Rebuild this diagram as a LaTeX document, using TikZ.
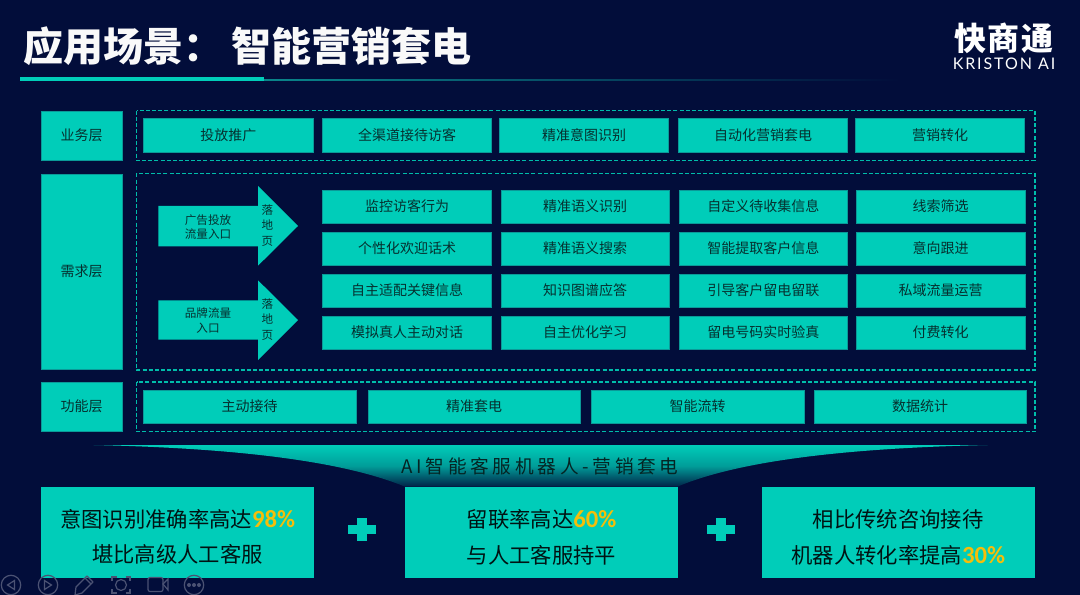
\documentclass[tikz,border=0pt]{standalone}
\usepackage{fontspec}
\setmainfont{Noto Sans CJK SC}
\newfontfamily\numfont{Carlito}
\newfontfamily\latinfont{Lato}
\definecolor{bgnavy}{HTML}{020D3A}
\definecolor{tealbox}{HTML}{00CDB9}
\definecolor{tealedge}{HTML}{0A9A98}
\definecolor{inktext}{HTML}{06302F}
\definecolor{amber}{HTML}{F5BE0A}
\definecolor{uigray}{HTML}{4B5273}
\tikzset{
  x=0.75pt,y=-0.75pt,
  cbox/.style={fill=tealbox,draw=tealedge,line width=0.6pt,inner sep=0pt,align=center,text=inktext,font=\fontsize{10.5pt}{13pt}\selectfont},
  bigbox/.style={fill=tealbox,draw=none,inner sep=0pt,align=center,text=black!85!teal,font=\fontsize{16pt}{26.5pt}\selectfont},
  dashbox/.style={draw=tealbox!92!black,line width=1pt,dash pattern=on 3pt off 1.6pt},
  smalltxt/.style={inner sep=0pt,text=inktext,align=center,font=\fontsize{8.7pt}{10.7pt}\selectfont},
  uiicon/.style={draw=uigray,line width=0.9pt,fill=none},
  plusmark/.style={fill=tealbox,draw=none},
}
\newcommand{\cbx}[6]{\node[cbox,minimum width={(#4-#2)*0.75pt},minimum height={(#5-#3)*0.75pt}] (#1) at ({(#2+#4)/2},{(#3+#5)/2}) {#6};}
\newcommand{\bbx}[6]{\node[bigbox,minimum width={(#4-#2)*0.75pt},minimum height={(#5-#3)*0.75pt}] (#1) at ({(#2+#4)/2},{(#3+#5)/2}) {\rule{0pt}{21pt}#6};}
\newcommand{\pct}[1]{{\color{amber}\numfont\bfseries\fontsize{18.5pt}{26.5pt}\selectfont #1}}
\begin{document}
\begin{tikzpicture}
\fill[bgnavy] (0,0) rectangle (1080,595);
\useasboundingbox (0,0) rectangle (1080,595);
% title
\node[anchor=west,inner sep=0pt,text=white!95!gray,font=\fontsize{30pt}{36pt}\selectfont\bfseries] (title) at (23,46) {应用场景：\kern 6.5pt 智能营销套电};
\fill[tealbox] (19.5,77) rectangle (264,81);
\shade[left color=tealedge!85!bgnavy,right color=bgnavy] (264,79.2) rectangle (900,80.8);
% logo
\node[inner sep=0pt,text=white,font=\fontsize{24pt}{28pt}\selectfont\bfseries] (logocn) at (1004,38) {\addfontfeature{LetterSpace=6}快商通};
\node[inner sep=0pt,text=white,font=\fontsize{12pt}{14pt}\selectfont] (logoen) at (1004,64) {\latinfont\addfontfeature{LetterSpace=12}KRISTON AI};
% layer labels
\cbx{lyA}{41}{111}{122}{160}{业务层}
\cbx{lyB}{41}{174}{122}{369}{需求层}
\cbx{lyC}{41}{382}{122}{431}{功能层}
% dashed frames
\draw[dashbox] (136.7,110.7) rectangle (1035,160.5);
\draw[dashbox] (136.7,173.5) rectangle (1035,370);
\draw[dashbox] (136.7,382) rectangle (1035,431.5);
% business row
\cbx{bA}{143}{118.5}{313.5}{152}{投放推广}
\cbx{bB}{322.5}{118.5}{491.7}{152}{全渠道接待访客}
\cbx{bC}{499.5}{118.5}{668.8}{152}{精准意图识别}
\cbx{bD}{678.8}{118.5}{847.5}{152}{自动化营销套电}
\cbx{bE}{855.8}{118.5}{1024.5}{152}{营销转化}
% demand grid
\cbx{gA}{322.5}{190}{491.7}{223}{监控访客行为}
\cbx{gB}{501}{190}{669}{223}{精准语义识别}
\cbx{gC}{679}{190}{847.5}{223}{自定义待收集信息}
\cbx{gD}{856}{190}{1025}{223}{线索筛选}
\cbx{gE}{322.5}{232}{491.7}{265}{个性化欢迎话术}
\cbx{gF}{501}{232}{669}{265}{精准语义搜索}
\cbx{gG}{679}{232}{847.5}{265}{智能提取客户信息}
\cbx{gH}{856}{232}{1025}{265}{意向跟进}
\cbx{gI}{322.5}{274}{491.7}{307}{自主适配关键信息}
\cbx{gJ}{501}{274}{669}{307}{知识图谱应答}
\cbx{gK}{679}{274}{847.5}{307}{引导客户留电留联}
\cbx{gL}{856}{274}{1025}{307}{私域流量运营}
\cbx{gM}{322.5}{316}{491.7}{349}{模拟真人主动对话}
\cbx{gN}{501}{316}{669}{349}{自主优化学习}
\cbx{gO}{679}{316}{847.5}{349}{留电号码实时验真}
\cbx{gP}{856}{316}{1025}{349}{付费转化}
% arrows
\fill[tealbox] (158.3,206) -- (258,206) -- (258,186) -- (298,226) -- (258,265.7) -- (258,246.3) -- (158.3,246.3) -- cycle;
\fill[tealbox] (158.3,300.3) -- (258,300.3) -- (258,280.3) -- (298,320) -- (258,360) -- (258,339.7) -- (158.3,339.7) -- cycle;
\node[smalltxt] (arA) at (208,227) {广告投放\\流量入口};
\node[smalltxt] (arB) at (208,320.5) {品牌流量\\入口};
\node[smalltxt] (ldA) at (267.5,225.5) {落\\[0.9pt]地\\[0.9pt]页};
\node[smalltxt] (ldB) at (267.5,319.5) {落\\[0.9pt]地\\[0.9pt]页};
% function row
\cbx{fA}{143}{390}{356}{423}{主动接待}
\cbx{fB}{368}{390}{580}{423}{精准套电}
\cbx{fC}{591}{390}{804}{423}{智能流转}
\cbx{fD}{814}{390}{1026}{423}{数据统计}
% funnel
\shade[top color=tealbox,bottom color=bgnavy!80!teal,middle color=tealbox!75!bgnavy]
  (93.7,445) -- (987.6,445) .. controls (851,448) and (741,460) .. (677.7,486.5) -- (404.6,486.5) .. controls (340,460) and (230,448) .. (93.7,445) -- cycle;
\node[inner sep=0pt,text=inktext!75!black,font=\fontsize{14pt}{16pt}\selectfont] (funnel) at (540,466) {\addfontfeature{LetterSpace=20}AI智能客服机器人-营销套电};
% bottom boxes
\bbx{sA}{41.3}{486.7}{314}{577.7}{意图识别准确率高达\pct{98\%}\\堪比高级人工客服}
\bbx{sB}{405}{486.7}{678}{577.7}{留联率高达\pct{60\%}\\与人工客服持平}
\bbx{sC}{762}{486.7}{1034.5}{577.7}{相比传统咨询接待\\机器人转化率提高\pct{30\%}}
% plus signs
\fill[plusmark] (347.5,524.5) rectangle (375.7,533.5);
\fill[plusmark] (357,517.5) rectangle (366.5,540.5);
\fill[plusmark] (706.8,524.5) rectangle (735,533.5);
\fill[plusmark] (716.3,517.5) rectangle (725.8,540.5);
% slideshow toolbar
\draw[uiicon] (11,585) circle (9.7);
\draw[uiicon] (14.5,580.5) -- (7.5,585) -- (14.5,589.5) -- cycle;
\draw[uiicon] (48,585) circle (9.7);
\draw[uiicon] (44.5,580.5) -- (51.5,585) -- (44.5,589.5) -- cycle;
\draw[uiicon,line join=round] (75,595) -- (76,587) -- (87,576) -- (93,582) -- (82,593) -- cycle;
\draw[uiicon] (85,578) -- (91,584);
\draw[uiicon] (121,585) circle (5.5);
\draw[uiicon] (112,581) -- (112,577) -- (116.5,577);
\draw[uiicon] (125.5,577) -- (130,577) -- (130,581);
\draw[uiicon] (112,589) -- (112,593) -- (116.5,593);
\draw[uiicon] (125.5,593) -- (130,593) -- (130,589);
\draw[uiicon,rounded corners=1.5pt] (148,577.5) rectangle (163,591.5);
\draw[uiicon] (163,584) -- (168,579) -- (168,590) -- cycle;
\draw[uiicon] (194,585) circle (9.7);
\fill[uigray] (189,585) circle (2) (194,585) circle (2) (199,585) circle (2);
\end{tikzpicture}
\end{document}
